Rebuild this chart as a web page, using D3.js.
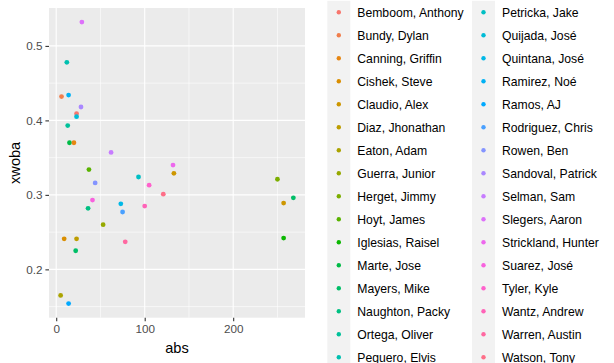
<!DOCTYPE html>
<meta charset="utf-8">
<script src="https://cdn.jsdelivr.net/npm/d3@7"></script>
<style>
body { margin: 0; background: #fff; }
svg text { font-family: "Liberation Sans", Arial, sans-serif; }
.axis-lab { fill: #4d4d4d; font-size: 11.7px; }
.axis-title { fill: #000; font-size: 14.6px; }
.leg-lab { fill: #000; font-size: 12.2px; }
</style>
<body>
<div id="chart"></div>
<script>
// ---- data ----
const players = [
  "Bemboom, Anthony", "Bundy, Dylan", "Canning, Griffin", "Cishek, Steve",
  "Claudio, Alex", "Diaz, Jhonathan", "Eaton, Adam", "Guerra, Junior",
  "Herget, Jimmy", "Hoyt, James", "Iglesias, Raisel", "Marte, Jose",
  "Mayers, Mike", "Naughton, Packy", "Ortega, Oliver", "Peguero, Elvis",
  "Petricka, Jake", "Quijada, José", "Quintana, José", "Ramirez, Noé",
  "Ramos, AJ", "Rodriguez, Chris", "Rowen, Ben", "Sandoval, Patrick",
  "Selman, Sam", "Slegers, Aaron", "Strickland, Hunter", "Suarez, José",
  "Tyler, Kyle", "Wantz, Andrew", "Warren, Austin", "Watson, Tony"
];

const pointPlayer = [
  "Slegers, Aaron", "Peguero, Elvis", "Bundy, Dylan", "Ramirez, Noé",
  "Sandoval, Patrick", "Bemboom, Anthony", "Quijada, José", "Ortega, Oliver",
  "Marte, Jose", "Canning, Griffin", "Selman, Sam", "Hoyt, James",
  "Petricka, Jake", "Rowen, Ben", "Tyler, Kyle", "Suarez, José",
  "Naughton, Packy", "Quintana, José", "Rodriguez, Chris", "Wantz, Andrew",
  "Guerra, Junior", "Cishek, Steve", "Diaz, Jhonathan", "Warren, Austin",
  "Mayers, Mike", "Eaton, Adam", "Ramos, AJ", "Strickland, Hunter",
  "Claudio, Alex", "Herget, Jimmy", "Watson, Tony", "Claudio, Alex",
  "Mayers, Mike", "Iglesias, Raisel"
];
const pointAbs = [
  29, 12, 6, 14, 28, 23, 23, 13, 15, 20, 62, 37, 93, 44, 105, 41, 36,
  73, 75, 100, 53, 9, 23, 78, 22, 5, 14, 132, 133, 250, 121, 257, 268, 257
];
const pointXwoba = [
  0.532, 0.478, 0.432, 0.434, 0.418, 0.409, 0.405, 0.393, 0.370, 0.370,
  0.357, 0.334, 0.324, 0.316, 0.313, 0.293, 0.282, 0.288, 0.277, 0.285,
  0.260, 0.241, 0.241, 0.237, 0.225, 0.165, 0.154, 0.340, 0.329, 0.321,
  0.301, 0.289, 0.296, 0.242
];

const xTicks = [0, 100, 200];
const xMinor = [50, 150, 250];
const yTicks = [0.2, 0.3, 0.4, 0.5];
const yMinor = [0.15, 0.25, 0.35, 0.45];

// ---- ggplot-style hue palette (polar LUV) ----
function hclLuv(h, c, l) {
  const Xn = 95.047, Yn = 100, Zn = 108.883;
  const hr = h * Math.PI / 180;
  const U = c * Math.cos(hr), V = c * Math.sin(hr);
  const Y = l > 8 ? Yn * Math.pow((l + 16) / 116, 3) : Yn * l / 903.3;
  const den = Xn + 15 * Yn + 3 * Zn;
  const un = 4 * Xn / den, vn = 9 * Yn / den;
  const up = U / (13 * l) + un, vp = V / (13 * l) + vn;
  const X = 9 * Y * up / (4 * vp);
  const Z = (12 - 3 * up - 20 * vp) * Y / (4 * vp);
  const x = X / 100, y = Y / 100, z = Z / 100;
  const lin = [
    3.240479 * x - 1.537150 * y - 0.498535 * z,
    -0.969256 * x + 1.875992 * y + 0.041556 * z,
    0.055648 * x - 0.204043 * y + 1.057311 * z
  ];
  const g = lin.map(v => {
    v = v <= 0.0031308 ? 12.92 * v : 1.055 * Math.pow(v, 1 / 2.4) - 0.055;
    return Math.round(Math.max(0, Math.min(1, v)) * 255);
  });
  return d3.rgb(g[0], g[1], g[2]).formatHex();
}
const n = players.length;
const color = d3.scaleOrdinal()
  .domain(players)
  .range(players.map((p, i) => hclLuv(15 + 360 * i / n, 100, 65)));

// ---- layout ----
const width = 614, height = 363;
const panel = { left: 49, right: 305, top: 8, bottom: 317.7 };

const svg = d3.select("#chart").append("svg")
  .attr("width", width)
  .attr("height", height);

function expand(ext) {
  const r = ext[1] - ext[0];
  return [ext[0] - 0.05 * r, ext[1] + 0.05 * r];
}
const x = d3.scaleLinear()
  .domain(expand(d3.extent(pointAbs)))
  .range([panel.left, panel.right]);
const y = d3.scaleLinear()
  .domain(expand(d3.extent(pointXwoba)))
  .range([panel.bottom, panel.top]);

// panel background
svg.append("rect")
  .attr("x", panel.left).attr("y", panel.top)
  .attr("width", panel.right - panel.left)
  .attr("height", panel.bottom - panel.top)
  .attr("fill", "#ebebeb");

const grid = svg.append("g");
grid.selectAll(".xmin").data(xMinor).enter().append("line")
  .attr("x1", d => x(d)).attr("x2", d => x(d))
  .attr("y1", panel.top).attr("y2", panel.bottom)
  .attr("stroke", "#fff").attr("stroke-width", 0.6);
grid.selectAll(".ymin").data(yMinor).enter().append("line")
  .attr("y1", d => y(d)).attr("y2", d => y(d))
  .attr("x1", panel.left).attr("x2", panel.right)
  .attr("stroke", "#fff").attr("stroke-width", 0.6);
grid.selectAll(".xmaj").data(xTicks).enter().append("line")
  .attr("x1", d => x(d)).attr("x2", d => x(d))
  .attr("y1", panel.top).attr("y2", panel.bottom)
  .attr("stroke", "#fff").attr("stroke-width", 1.1);
grid.selectAll(".ymaj").data(yTicks).enter().append("line")
  .attr("y1", d => y(d)).attr("y2", d => y(d))
  .attr("x1", panel.left).attr("x2", panel.right)
  .attr("stroke", "#fff").attr("stroke-width", 1.1);

// axes
const xAxis = svg.append("g")
  .attr("transform", "translate(0," + panel.bottom + ")")
  .call(d3.axisBottom(x).tickValues(xTicks).tickSize(3.6).tickPadding(3).tickFormat(d3.format("d")));
const yAxis = svg.append("g")
  .attr("transform", "translate(" + panel.left + ",0)")
  .call(d3.axisLeft(y).tickValues(yTicks).tickSize(3.6).tickPadding(3).tickFormat(d3.format(".1f")));
[xAxis, yAxis].forEach(a => {
  a.select(".domain").remove();
  a.selectAll(".tick line").attr("stroke", "#333").attr("stroke-width", 1.1);
  a.selectAll(".tick text").attr("class", "axis-lab").attr("font-size", null).attr("font-family", null);
});

svg.append("text")
  .attr("class", "axis-title")
  .attr("x", (panel.left + panel.right) / 2)
  .attr("y", 352.5)
  .attr("text-anchor", "middle")
  .text("abs");
svg.append("text")
  .attr("class", "axis-title")
  .attr("transform", "translate(20," + (panel.top + panel.bottom) / 2 + ") rotate(-90)")
  .attr("text-anchor", "middle")
  .text("xwoba");

// points
svg.append("g").selectAll("circle")
  .data(pointAbs.map((a, i) => ({ abs: a, xwoba: pointXwoba[i], player: pointPlayer[i] })))
  .enter().append("circle")
  .attr("cx", d => x(d.abs))
  .attr("cy", d => y(d.xwoba))
  .attr("r", 2.4)
  .attr("fill", d => color(d.player));

// legend (two columns, overflowing the window like the original)
const rows = Math.ceil(n / 2);
const colX = [327.3, 472];
const keyW = 23, keyH = 23, rowTop = 0.8;
const leg = svg.append("g");
leg.selectAll("rect.keybg").data(colX).enter().append("rect")
  .attr("x", d => d).attr("y", rowTop)
  .attr("width", keyW).attr("height", keyH * rows)
  .attr("fill", "#f2f2f2");
const items = leg.selectAll("g.item")
  .data(players)
  .enter().append("g")
  .attr("transform", (d, i) => "translate(" + colX[Math.floor(i / rows)] + "," + (rowTop + keyH * (i % rows)) + ")");
items.append("circle")
  .attr("cx", keyW / 2).attr("cy", keyH / 2)
  .attr("r", 2.2)
  .attr("fill", d => color(d));
items.append("text")
  .attr("class", "leg-lab")
  .attr("x", keyW + 7)
  .attr("y", keyH / 2 + 4.3)
  .text(d => d);
</script>
</body>
